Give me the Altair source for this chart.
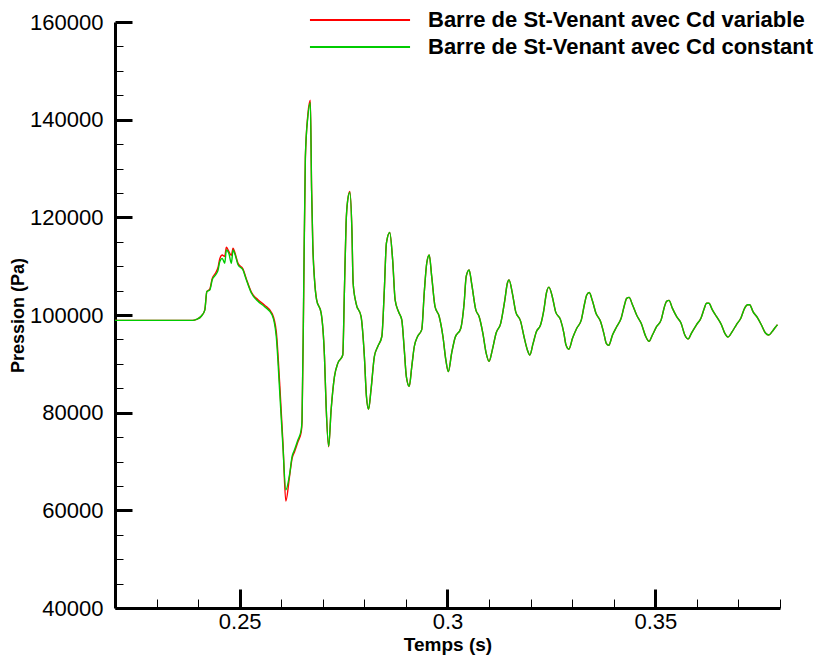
import altair as alt
import pandas as pd

t_vals = [
    0.2200, 0.2300, 0.2387, 0.2396, 0.2408, 0.2416, 0.2421, 0.2428, 0.2434, 0.2442,
    0.2448, 0.2452, 0.2458, 0.2464, 0.2468, 0.2474, 0.2480, 0.2484, 0.2488, 0.2496,
    0.2508, 0.2516, 0.2528, 0.2544, 0.2560, 0.2578, 0.2588, 0.2596, 0.2604, 0.2611,
    0.2620, 0.2626, 0.2632, 0.2640, 0.2648, 0.2650, 0.2654, 0.2658, 0.2664, 0.2670,
    0.2673, 0.2676, 0.2680, 0.2685, 0.2696, 0.2704, 0.2708, 0.2714, 0.2720, 0.2728,
    0.2736, 0.2748, 0.2752, 0.2756, 0.2760, 0.2765, 0.2770, 0.2773, 0.2780, 0.2792,
    0.2800, 0.2805, 0.2810, 0.2816, 0.2824, 0.2832, 0.2842, 0.2848, 0.2853, 0.2861,
    0.2868, 0.2874, 0.2882, 0.2890, 0.2896, 0.2901, 0.2908, 0.2914, 0.2920, 0.2928,
    0.2938, 0.2944, 0.2950, 0.2956, 0.2962, 0.2970, 0.2980, 0.2989, 0.2996, 0.3002,
    0.3010, 0.3018, 0.3032, 0.3040, 0.3045, 0.3052, 0.3058, 0.3068, 0.3076, 0.3085,
    0.3093, 0.3100, 0.3108, 0.3117, 0.3128, 0.3138, 0.3144, 0.3148, 0.3156, 0.3164,
    0.3176, 0.3184, 0.3192, 0.3198, 0.3206, 0.3214, 0.3224, 0.3232, 0.3238, 0.3244,
    0.3252, 0.3260, 0.3272, 0.3280, 0.3285, 0.3292, 0.3301, 0.3311, 0.3322, 0.3330,
    0.3335, 0.3341, 0.3349, 0.3357, 0.3368, 0.3376, 0.3382, 0.3388, 0.3397, 0.3407,
    0.3418, 0.3426, 0.3431, 0.3437, 0.3445, 0.3455, 0.3466, 0.3477, 0.3485, 0.3493,
    0.3503, 0.3514, 0.3522, 0.3527, 0.3533, 0.3541, 0.3551, 0.3562, 0.3571, 0.3579,
    0.3587, 0.3599, 0.3610, 0.3618, 0.3623, 0.3629, 0.3637, 0.3647, 0.3659, 0.3667,
    0.3675, 0.3685, 0.3695, 0.3706, 0.3715, 0.3722, 0.3727, 0.3735, 0.3746, 0.3755,
    0.3765, 0.3773, 0.3781, 0.3789, 0.3794,
]

p_green = [
    98900, 98900, 98900, 99100, 99800, 101000, 104800, 105100, 107200, 108200,
    109200, 110900, 111600, 110600, 113300, 112600, 110600, 113300, 112600, 110300,
    109200, 107200, 104500, 102800, 101700, 100000, 95600, 84700, 73100, 64200,
    67300, 71000, 72400, 74400, 76500, 78500, 105100, 132400, 140600, 143500,
    125600, 114000, 107200, 103100, 100400, 91500, 81300, 73100, 80600, 87400,
    90100, 91800, 105100, 118800, 123600, 125100, 117400, 106500, 102400, 99700,
    91500, 83300, 80700, 84700, 91500, 93500, 95600, 105100, 114700, 116900,
    111300, 103100, 100700, 99000, 92900, 87400, 85400, 89400, 93500, 95600,
    97000, 104500, 110600, 112300, 107900, 101700, 99700, 95600, 90800, 88400,
    92200, 95300, 97300, 102400, 107900, 109200, 106500, 101100, 99700, 96300,
    92200, 90500, 92900, 96300, 98300, 103100, 106500, 107200, 104500, 100700,
    98700, 95600, 92900, 91800, 94200, 96600, 98000, 101100, 104500, 105700,
    103800, 100700, 99000, 96300, 93900, 93000, 95300, 97300, 99000, 102400,
    104100, 104600, 102800, 100400, 98700, 96300, 94200, 93800, 95900, 97600,
    99400, 102100, 103400, 103600, 102100, 100000, 98300, 95600, 94600, 95900,
    97600, 99000, 101700, 102800, 103000, 101400, 99700, 98300, 95900, 95100,
    96300, 98000, 99400, 101400, 102400, 102400, 101100, 99700, 98000, 96300,
    95500, 96600, 98000, 99400, 101400, 102100, 102100, 100700, 99400, 98000,
    96300, 95900, 96600, 97500, 98000,
]

p_red = [
    98900, 98900, 98900, 99100, 99800, 101000, 104800, 105300, 107500, 108600,
    109800, 111500, 112300, 112000, 113900, 113000, 112200, 113700, 112900, 110600,
    109400, 107400, 104700, 103100, 102000, 100300, 96600, 86300, 74000, 61900,
    67000, 70600, 72000, 74000, 76000, 78000, 104000, 132000, 141000, 144000,
    126000, 114300, 107400, 103200, 100400, 91500, 81300, 73000, 80600, 87400,
    90100, 91800, 105100, 118800, 123600, 125300, 117400, 106500, 102400, 99700,
    91500, 83300, 80700, 84700, 91500, 93500, 95600, 105100, 114700, 116900,
    111300, 103100, 100700, 99000, 92900, 87400, 85400, 89400, 93500, 95600,
    97000, 104500, 110600, 112300, 107900, 101700, 99700, 95600, 90800, 88400,
    92200, 95300, 97300, 102400, 107900, 109200, 106500, 101100, 99700, 96300,
    92200, 90500, 92900, 96300, 98300, 103100, 106500, 107200, 104500, 100700,
    98700, 95600, 92900, 91800, 94200, 96600, 98000, 101100, 104500, 105700,
    103800, 100700, 99000, 96300, 93900, 93000, 95300, 97300, 99000, 102400,
    104100, 104600, 102800, 100400, 98700, 96300, 94200, 93800, 95900, 97600,
    99400, 102100, 103400, 103600, 102100, 100000, 98300, 95600, 94600, 95900,
    97600, 99000, 101700, 102800, 103000, 101400, 99700, 98300, 95900, 95100,
    96300, 98000, 99400, 101400, 102400, 102400, 101100, 99700, 98000, 96300,
    95500, 96600, 98000, 99400, 101400, 102100, 102100, 100700, 99400, 98000,
    96300, 95900, 96600, 97500, 98000,
]

series = ["Barre de St-Venant avec Cd variable", "Barre de St-Venant avec Cd constant"]
colors = ["#ff0000", "#00cc00"]

x_domain = [0.22, 0.38]
y_domain = [40000, 160000]
x_major = [0.25, 0.3, 0.35]
x_minor = [0.23, 0.24, 0.26, 0.27, 0.28, 0.29, 0.31, 0.32, 0.33, 0.34, 0.36, 0.37, 0.38]
y_major = [40000, 60000, 80000, 100000, 120000, 140000, 160000]
y_minor = [45000, 50000, 55000, 65000, 70000, 75000, 85000, 90000, 95000,
           105000, 110000, 115000, 125000, 130000, 135000, 145000, 150000, 155000]

assert len(t_vals) == len(p_green) == len(p_red)
n = len(t_vals)
df = pd.DataFrame({
    "t": t_vals + t_vals,
    "p": p_red + p_green,
    "serie": [series[0]] * n + [series[1]] * n,
})

FONT = "Liberation Sans"
xs = alt.Scale(domain=x_domain, nice=False, zero=False)
ys = alt.Scale(domain=y_domain, nice=False, zero=False)

x_main = alt.Axis(orient="bottom", values=x_major, format="~g", ticks=False, tickSize=0,
                  domain=True, domainColor="black", domainWidth=3, grid=False,
                  labelFont=FONT, labelFontSize=22, labelColor="black", labelPadding=3,
                  titleFont=FONT, titleFontSize=19, titleFontWeight="bold",
                  titleColor="black", titlePadding=3)
y_main = alt.Axis(orient="left", values=y_major, format="d", ticks=False, tickSize=0,
                  domain=True, domainColor="black", domainWidth=3, grid=False,
                  labelFont=FONT, labelFontSize=22, labelColor="black", labelPadding=12,
                  titleFont=FONT, titleFontSize=18, titleFontWeight="bold",
                  titleColor="black", titlePadding=2)

x_maj_ax = alt.Axis(orient="bottom", values=x_major, domain=False, labels=False, grid=False,
                    tickSize=19, tickWidth=3, tickColor="black", offset=-19)
x_min_ax = alt.Axis(orient="bottom", values=x_minor, domain=False, labels=False, grid=False,
                    tickSize=9, tickWidth=1, tickColor="black", offset=-9)
y_maj_ax = alt.Axis(orient="left", values=y_major, domain=False, labels=False, grid=False,
                    tickSize=17, tickWidth=3, tickColor="black", offset=-17)
y_min_ax = alt.Axis(orient="left", values=y_minor, domain=False, labels=False, grid=False,
                    tickSize=8, tickWidth=1, tickColor="black", offset=-8)

legend = alt.Legend(orient="none", legendX=195, legendY=-14, title=None,
                    symbolType="M-4.55,0H4.55", symbolSize=484, symbolStrokeWidth=2,
                    symbolOffset=38, labelOffset=56, rowPadding=4, padding=0,
                    labelFont=FONT, labelFontSize=22, labelFontWeight="bold",
                    labelColor="black", labelLimit=600)
color = alt.Color("serie:N", scale=alt.Scale(domain=series, range=colors), legend=legend)

base = alt.Chart(df)

red = base.transform_filter(alt.datum.serie == series[0]).mark_line(
    strokeWidth=1.4, interpolate="monotone").encode(
    x=alt.X("t:Q", scale=xs, axis=x_main, title="Temps (s)"),
    y=alt.Y("p:Q", scale=ys, axis=y_main, title="Pression (Pa)"),
    color=color,
)
green = base.transform_filter(alt.datum.serie == series[1]).mark_line(
    strokeWidth=1.4, interpolate="monotone").encode(
    x=alt.X("t:Q", scale=xs, axis=None),
    y=alt.Y("p:Q", scale=ys, axis=None),
    color=color,
)
ticks_major = base.mark_point(opacity=0).encode(
    x=alt.X("t:Q", scale=xs, axis=x_maj_ax, title=None),
    y=alt.Y("p:Q", scale=ys, axis=y_maj_ax, title=None),
)
ticks_minor = base.mark_point(opacity=0).encode(
    x=alt.X("t:Q", scale=xs, axis=x_min_ax, title=None),
    y=alt.Y("p:Q", scale=ys, axis=y_min_ax, title=None),
)

chart = alt.layer(red, green, ticks_major, ticks_minor).resolve_axis(
    x="independent", y="independent"
).properties(
    width=665, height=586,
    autosize=alt.AutoSizeParams(type="none"),
    padding={"left": 107, "top": 14, "right": 41, "bottom": 52},
).configure_view(strokeWidth=0)

chart.save("out.html", embed_options={"renderer": "svg", "actions": False})
